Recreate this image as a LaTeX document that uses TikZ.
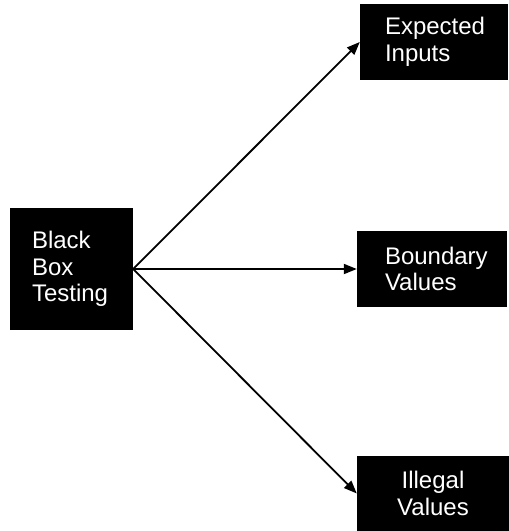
\documentclass[tikz,border=0pt]{standalone}
\usepackage{fontspec}
\setmainfont{Liberation Sans}
\usetikzlibrary{arrows.meta}

\tikzset{
  blackbox/.style={fill=black, text=white, inner sep=0pt, align=left,
    font=\fontsize{24}{26.5}\selectfont},
  testarrow/.style={line width=1.8pt, -{Triangle[length=13pt, width=10pt]}}
}

\begin{document}
\begin{tikzpicture}[x=1pt,y=-1pt]
   \useasboundingbox (0,0) rectangle (509,531);

 % Boxes
    \node[blackbox, minimum width=123, minimum height=122, text width=79] (bbt) at (71.5,269) {Black\\Box\\Testing}; % root
    \node[blackbox, minimum width=148, minimum height=76, text width=98] (inputs) at (434,42) {Expected\\Inputs};
    \node[blackbox, minimum width=150, minimum height=76, text width=94] (bounds) at (432,269) {Boundary\\Values};
    \node[blackbox, minimum width=152, minimum height=75, text width=100, align=center] (illegal) at (433,493.5) {Illegal\\Values};

 % Arrows
    \draw[testarrow] (bbt.east) -- (inputs.west);
    \draw[testarrow] (bbt.east) -- (bounds.west);
    \draw[testarrow] (bbt.east) -- (illegal.west);

\end{tikzpicture}
\end{document}
